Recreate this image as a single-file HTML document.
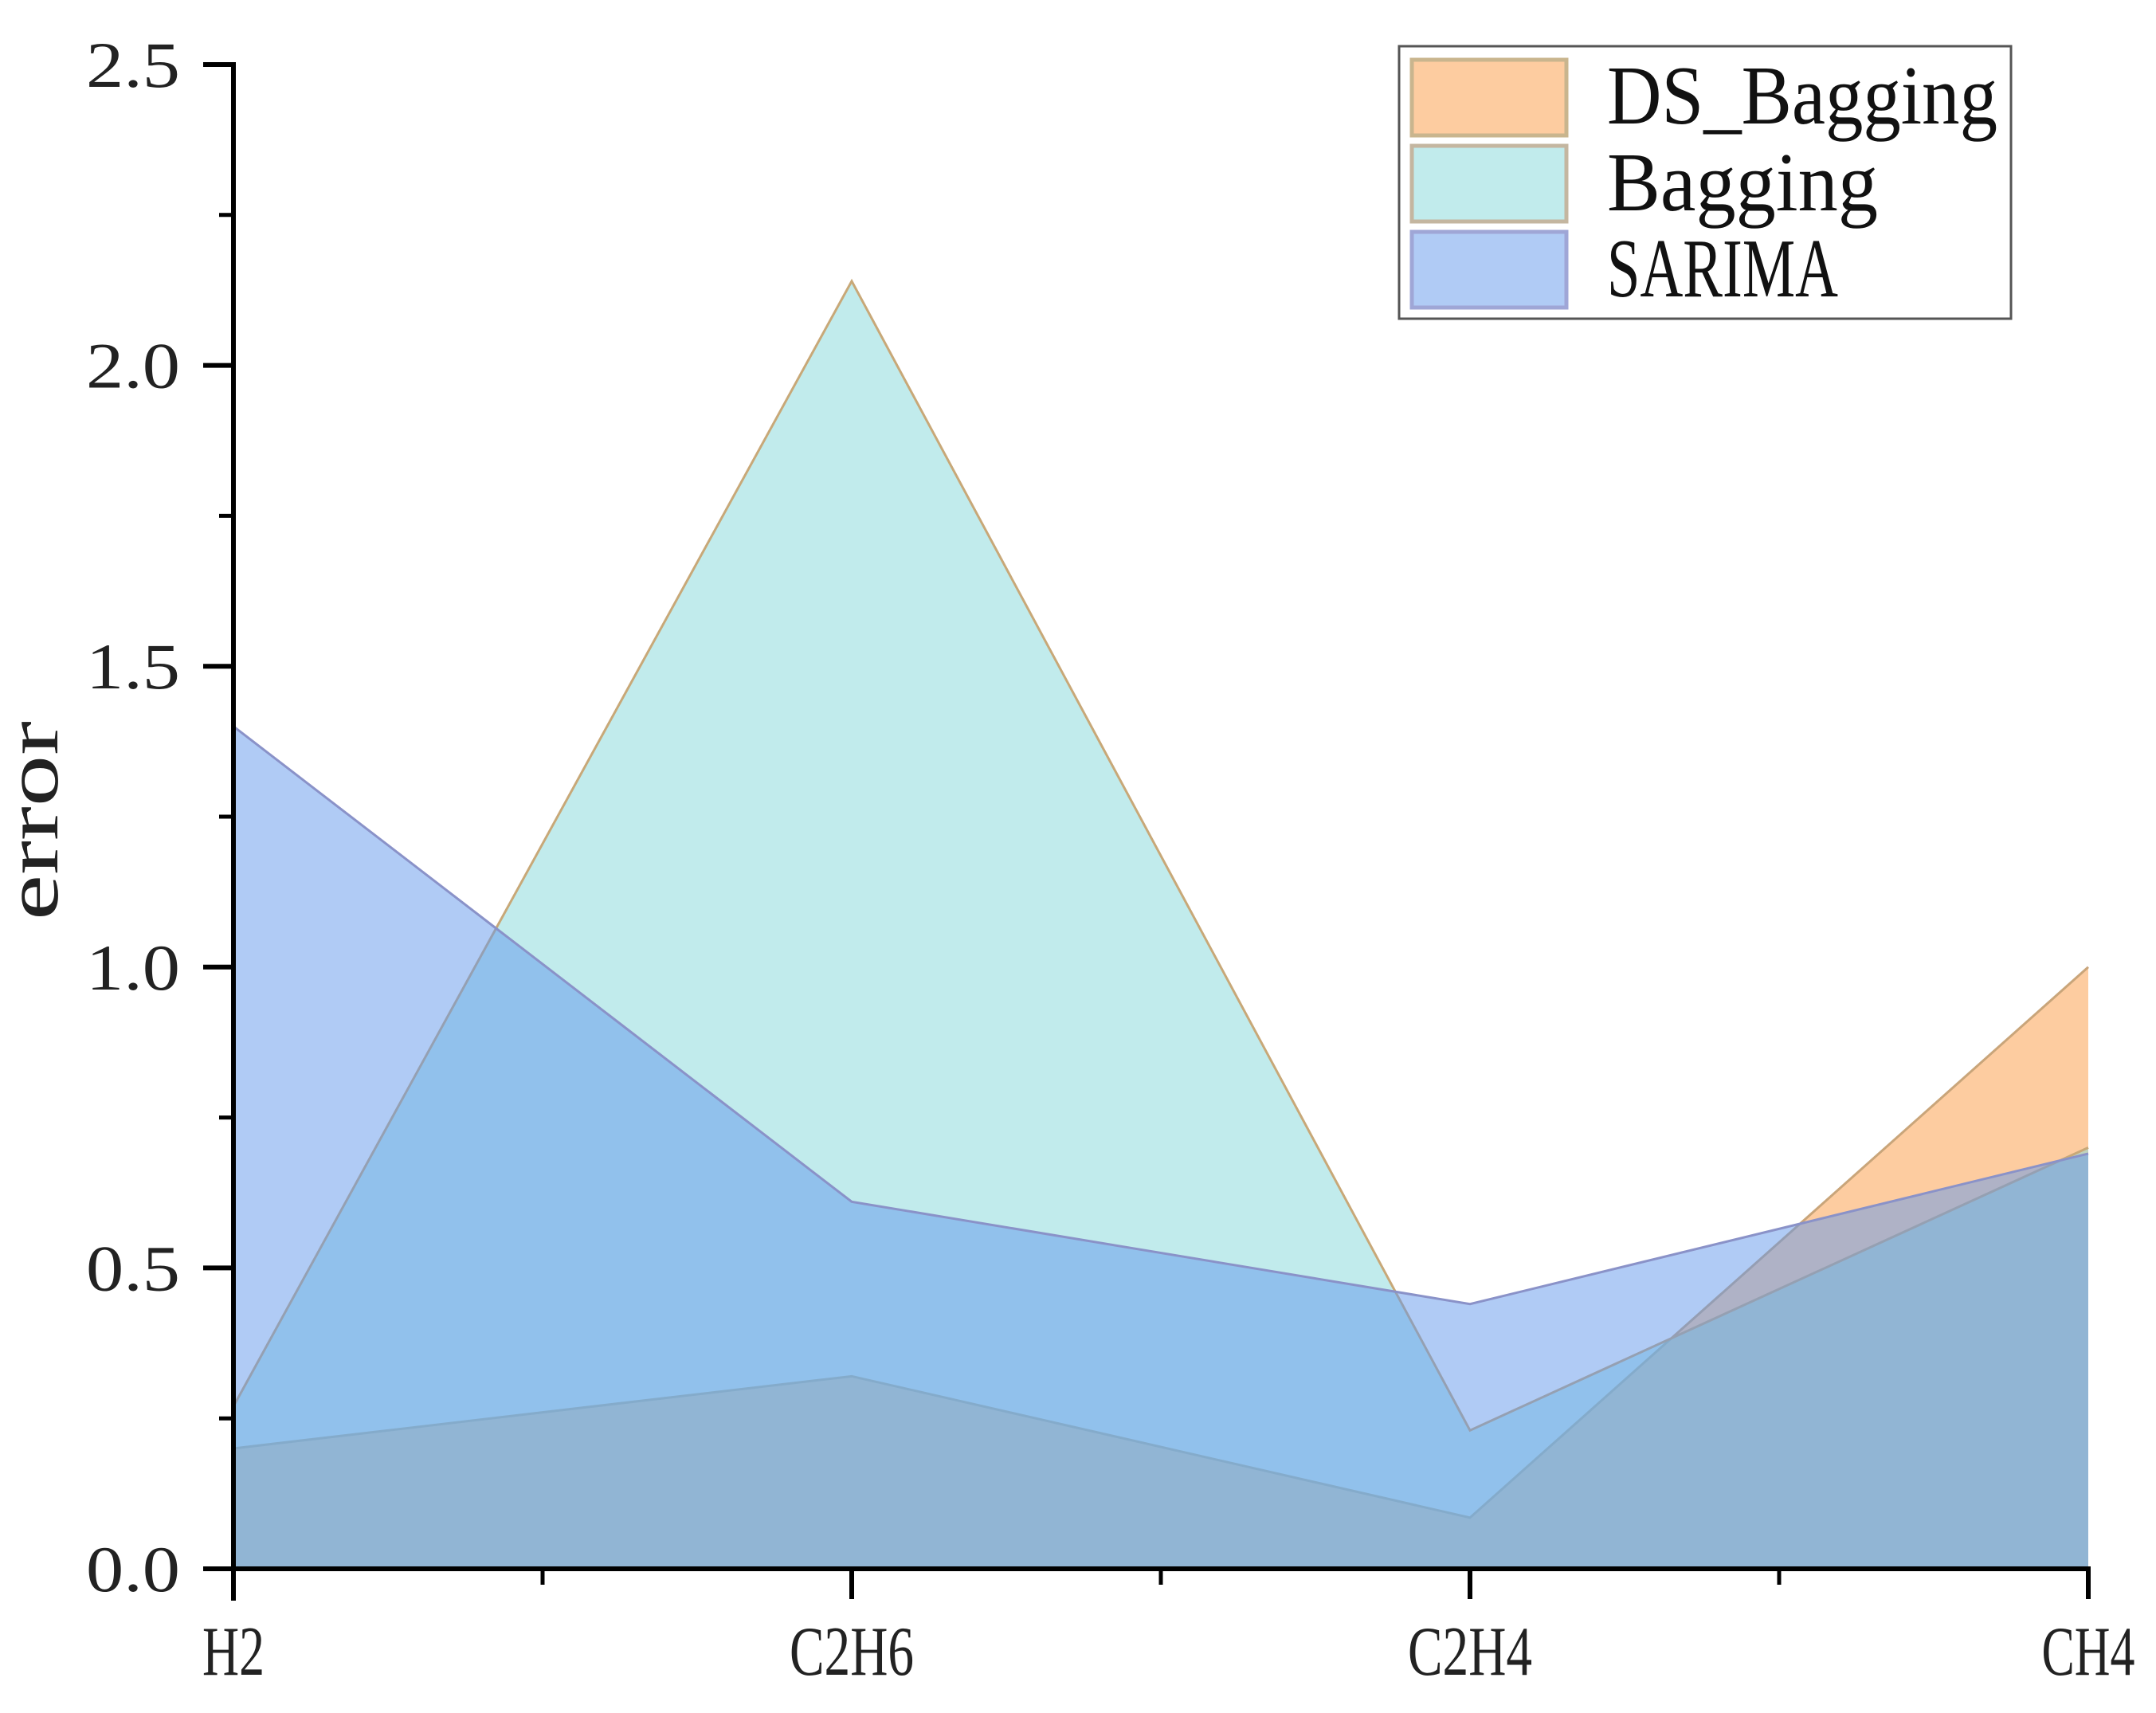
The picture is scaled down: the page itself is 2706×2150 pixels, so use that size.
<!DOCTYPE html>
<html><head><meta charset="utf-8"><style>html,body{margin:0;padding:0;background:#fff;}svg{display:block}</style></head>
<body>
<svg id="chart" width="2706" height="2150" viewBox="0 0 2706 2150" xmlns="http://www.w3.org/2000/svg" font-family="'Liberation Serif','Noto Serif CJK SC',serif">
<g id="areas"></g>
<g id="axes"></g>
<text transform="translate(72,1030) rotate(-90)" text-anchor="middle" font-size="95" fill="#222" textLength="250" lengthAdjust="spacingAndGlyphs">error</text>
<g>
<rect x="1756" y="58" width="768" height="342" fill="#fff" stroke="#555" stroke-width="3"/>
<rect x="1772" y="75" width="194" height="95" fill="#fdcca0" stroke="#c9b58e" stroke-width="5"/>
<text x="2017" y="155" font-size="105" fill="#111" textLength="490" lengthAdjust="spacingAndGlyphs">DS_Bagging</text>
<rect x="1772" y="183" width="194" height="95" fill="#c1ebec" stroke="#c4b6a0" stroke-width="5"/>
<text x="2017" y="264" font-size="105" fill="#111" textLength="340" lengthAdjust="spacingAndGlyphs">Bagging</text>
<rect x="1772" y="291" width="194" height="95" fill="#b0cbf5" stroke="#9fa6d6" stroke-width="5"/>
<text x="2017" y="372" font-size="105" fill="#111" textLength="290" lengthAdjust="spacingAndGlyphs">SARIMA</text>
</g>
</svg>
<script>
const categories = ["H2", "C2H6", "C2H4", "CH4"];
const dsBagging = [0.20, 0.32, 0.085, 1.0];
const bagging = [0.27, 2.14, 0.23, 0.70];
const sarima = [1.40, 0.61, 0.44, 0.69];
const yTicks = ["0.0", "0.5", "1.0", "1.5", "2.0", "2.5"];

const NS = "http://www.w3.org/2000/svg";
const X0 = 293, X1 = 2621, Y0 = 1969, Y1 = 81, YMAX = 2.5;
function xs(i){ return X0 + i * (X1 - X0) / (categories.length - 1); }
function ys(v){ return Y0 - v * (Y0 - Y1) / YMAX; }
function mk(tag, attrs, parent){
  const e = document.createElementNS(NS, tag);
  for (const k in attrs) e.setAttribute(k, attrs[k]);
  parent.appendChild(e);
  return e;
}
const areas = document.getElementById('areas');
const series = [
  {name:'area-ds-bagging', vals: dsBagging, fill:'rgb(251,153,65)', stroke:'#c9a57a'},
  {name:'area-bagging', vals: bagging, fill:'rgb(131,215,217)', stroke:'#c8a878'},
  {name:'area-sarima', vals: sarima, fill:'rgb(97,151,235)', stroke:'#8a92c8'}
];
series.forEach(s => {
  let d = 'M' + xs(0) + ',' + ys(0);
  s.vals.forEach((v,i) => { d += ' L' + xs(i) + ',' + ys(v); });
  d += ' L' + xs(s.vals.length-1) + ',' + ys(0) + ' Z';
  const p = mk('path', {d: d, fill: s.fill, 'fill-opacity': 0.5, stroke: 'none'}, areas);
  
  
  let l = '';
  s.vals.forEach((v,i) => { l += (i ? ' L' : 'M') + xs(i) + ',' + ys(v); });
  const ln = mk('path', {d: l, fill: 'none', stroke: s.stroke, 'stroke-width': 3}, areas);
  
  
});
const axes = document.getElementById('axes');
const ya = mk('line', {x1: X0, y1: Y1 - 3, x2: X0, y2: Y0 + 40, stroke: '#000', 'stroke-width': 6}, axes);


const xa = mk('line', {x1: X0 - 3, y1: Y0, x2: X1 + 3, y2: Y0, stroke: '#000', 'stroke-width': 6}, axes);


yTicks.forEach((t, i) => {
  const v = parseFloat(t);
  const tk = mk('line', {x1: X0 - 38, y1: ys(v), x2: X0, y2: ys(v), stroke: '#000', 'stroke-width': 6}, axes);
  
  
  const lb = mk('text', {x: 226, y: ys(v) + 28, 'text-anchor': 'end', 'font-size': 82, fill: '#222', textLength: 118, lengthAdjust: 'spacingAndGlyphs'}, axes);
  lb.textContent = t;
  
  
  if (i < yTicks.length - 1) {
    const mv = v + 0.25;
    const mt = mk('line', {x1: X0 - 18, y1: ys(mv), x2: X0, y2: ys(mv), stroke: '#000', 'stroke-width': 5}, axes);
    
    
  }
});
categories.forEach((c, i) => {
  const tk = mk('line', {x1: xs(i), y1: Y0, x2: xs(i), y2: Y0 + 38, stroke: '#000', 'stroke-width': 6}, axes);
  
  
  const lb = mk('text', {x: xs(i), y: 2102, 'text-anchor': 'middle', 'font-size': 88, fill: '#222', textLength: c.length * 39, lengthAdjust: 'spacingAndGlyphs'}, axes);
  lb.textContent = c;
  
  
  if (i < categories.length - 1) {
    const mx = (xs(i) + xs(i+1)) / 2;
    const mt = mk('line', {x1: mx, y1: Y0, x2: mx, y2: Y0 + 20, stroke: '#000', 'stroke-width': 5}, axes);
    
    
  }
});
</script>
</body></html>
